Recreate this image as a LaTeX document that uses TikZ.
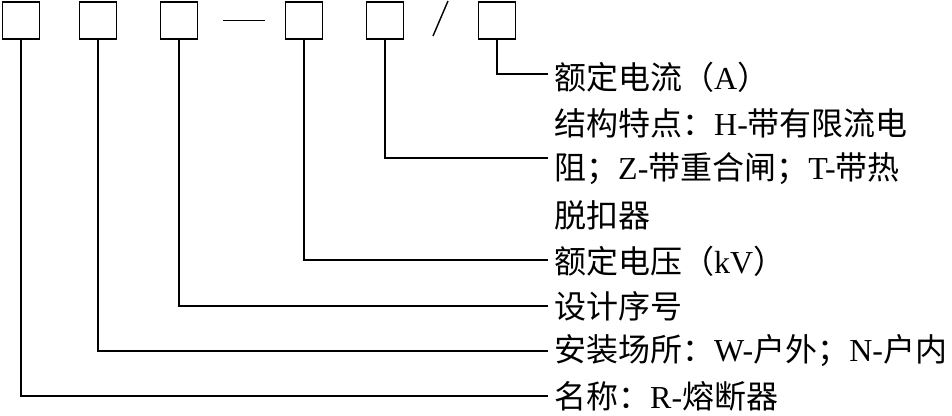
\documentclass[tikz,border=0pt]{standalone}
\usepackage{fontspec}
\setmainfont{Liberation Serif}
\newfontfamily\cjk{Noto Sans CJK SC}
\usetikzlibrary{calc}

\begin{document}
\begin{tikzpicture}[x=1pt,y=-1pt,
  codebox/.style={draw,line width=1.8pt,minimum width=37pt,minimum height=37pt,inner sep=0pt},
  lead/.style={line width=1.2pt},
  label/.style={anchor=west,inner xsep=6pt,inner ysep=0pt,font=\fontsize{32}{36}\selectfont}]
  \useasboundingbox (0,0) rectangle (952,415);
  % Code boxes
  \node[codebox] (b1) at (21,20.5) {};
  \node[codebox] (b2) at (98,20.5) {};
  \node[codebox] (b3) at (179,20.5) {};
  \node[codebox] (b4) at (304,20.5) {};
  \node[codebox] (b5) at (385,20.5) {};
  \node[codebox] (b6) at (497,20.5) {};
  % Dash and slash between boxes
  \draw[line width=1.6pt] ([xshift=25pt]b3.east) -- ([xshift=-20pt]b4.west);
  \draw[line width=1.4pt] (433,36) -- (448,1);
  % Labels
  \node[label] (t1) at (548,77) {{\cjk 额定电流（}A{\cjk ）}};
  \node[label] (t2) at (548,123) {{\cjk 结构特点：}H-{\cjk 带有限流电}};
  \node[label] (t3) at (548,169) {{\cjk 阻；}Z-{\cjk 带重合闸；}T-{\cjk 带热}};
  \node[label] (t4) at (548,215) {{\cjk 脱扣器}};
  \node[label] (t5) at (548,261) {{\cjk 额定电压（}kV{\cjk ）}};
  \node[label] (t6) at (548,306) {{\cjk 设计序号}};
  \node[label] (t7) at (548,351) {{\cjk 安装场所：}W-{\cjk 户外；}N-{\cjk 户内}};
  \node[label] (t8) at (548,396) {{\cjk 名称：}R-{\cjk 熔断器}};
  % Leaders from boxes to labels
  \draw[lead] (b6.south) |- ([yshift=3pt]t1.west);
  \draw[lead] (b5.south) |- ([yshift=11pt]t3.west);
  \draw[lead] (b4.south) |- ([yshift=1pt]t5.west);
  \draw[lead] (b3.south) |- (t6.west);
  \draw[lead] (b2.south) |- (t7.west);
  \draw[lead] (b1.south) |- (t8.west);
\end{tikzpicture}
\end{document}
